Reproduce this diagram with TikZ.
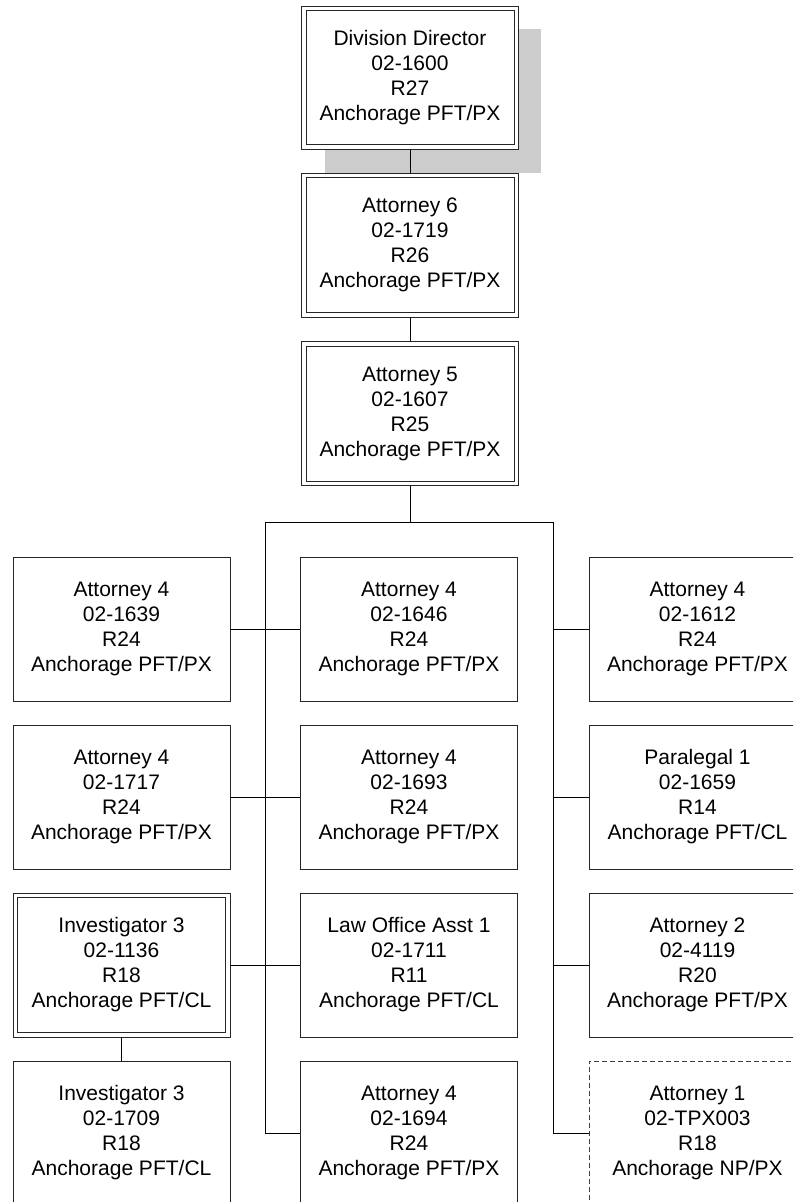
\documentclass[tikz,border=0pt]{standalone}
\usepackage{fontspec}
\setmainfont{Liberation Sans}
\definecolor{shadowgray}{HTML}{CCCCCC}
\begin{document}
\begin{tikzpicture}[x=1pt,y=-1pt,
  box/.style={draw=black!85, line width=0.9pt, fill=white, minimum width=217pt, minimum height=144pt,
    inner sep=0pt, outer sep=0.45pt, align=center, font=\fontsize{21}{25}\selectfont},
  dbox/.style={box},
  innerline/.style={draw=black!85, line width=0.9pt},
  dashbox/.style={box, draw=black!75, dash pattern=on 5pt off 3pt},
  conn/.style={draw=black, line width=0.9pt}]
\useasboundingbox (0,0) rectangle (793,1202);
\clip (0,0) rectangle (793,1202);
% shadow of the top box
\fill[shadowgray] (325,29) rectangle (541,173);
% top chain
\node[dbox, minimum height=143pt] (dd) at (410,77.5) {Division Director\\02-1600\\R27\\Anchorage PFT/PX};
\node[dbox] (a6) at (410,245) {Attorney 6\\02-1719\\R26\\Anchorage PFT/PX};
\node[dbox] (a5) at (410,413.5) {Attorney 5\\02-1607\\R25\\Anchorage PFT/PX};
% left column
\node[box] (l1) at (121.5,629) {Attorney 4\\02-1639\\R24\\Anchorage PFT/PX};
\node[box] (l2) at (121.5,797) {Attorney 4\\02-1717\\R24\\Anchorage PFT/PX};
\node[dbox] (l3) at (121.5,965) {Investigator 3\\02-1136\\R18\\Anchorage PFT/CL};
\node[box] (l4) at (121.5,1133) {Investigator 3\\02-1709\\R18\\Anchorage PFT/CL};
% middle column
\node[box] (m1) at (409,629) {Attorney 4\\02-1646\\R24\\Anchorage PFT/PX};
\node[box] (m2) at (409,797) {Attorney 4\\02-1693\\R24\\Anchorage PFT/PX};
\node[box] (m3) at (409,965) {Law Office Asst 1\\02-1711\\R11\\Anchorage PFT/CL};
\node[box] (m4) at (409,1133) {Attorney 4\\02-1694\\R24\\Anchorage PFT/PX};
% right column
\node[box] (r1) at (697.5,629) {Attorney 4\\02-1612\\R24\\Anchorage PFT/PX};
\node[box] (r2) at (697.5,797) {Paralegal 1\\02-1659\\R14\\Anchorage PFT/CL};
\node[box] (r3) at (697.5,965) {Attorney 2\\02-4119\\R20\\Anchorage PFT/PX};
\node[dashbox] (r4) at (697.5,1133) {Attorney 1\\02-TPX003\\R18\\Anchorage NP/PX};
% inner frames of the double-bordered boxes
\foreach \n in {dd,a6,a5,l3}
  \draw[innerline] ([shift={(5,5)}]\n.north west) rectangle ([shift={(-5,-5)}]\n.south east);
% connectors
\coordinate (bl) at (265,522);
\coordinate (br) at (553,522);
\draw[conn] (dd.south) -- (a6.north);
\draw[conn] (a6.south) -- (a5.north);
\draw[conn] (a5.south) -- (a5.south |- bl);
\draw[conn] (m4.west) -| (bl) -- (br) |- (r4.west);
\draw[conn] (l1.east) -- (m1.west);
\draw[conn] (l2.east) -- (m2.west);
\draw[conn] (l3.east) -- (m3.west);
\draw[conn] (br |- r1.west) -- (r1.west);
\draw[conn] (br |- r2.west) -- (r2.west);
\draw[conn] (br |- r3.west) -- (r3.west);
\draw[conn] (l3.south) -- (l4.north);
\end{tikzpicture}
\end{document}
